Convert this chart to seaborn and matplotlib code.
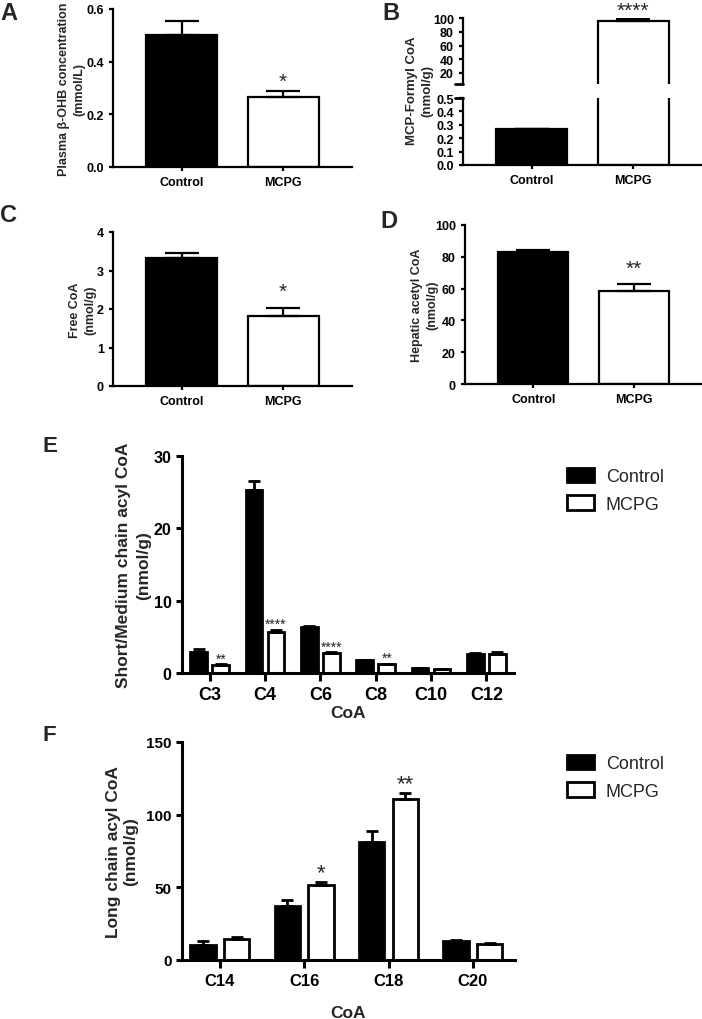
import numpy as np
import pandas as pd
import seaborn as sns
import matplotlib
matplotlib.use("Agg")
import matplotlib.pyplot as plt

# data
groups = ["Control", "MCPG"]
bhb = [0.50, 0.265]
bhb_err = [0.055, 0.025]
formyl = [0.265, 95.0]
formyl_err = [0.004, 3.0]
free_coa = [3.32, 1.83]
free_coa_err = [0.13, 0.19]
acetyl = [83.3, 58.5]
acetyl_err = [1.2, 4.6]

short_chain = ["C3", "C4", "C6", "C8", "C10", "C12"]
short_ctrl = [2.9, 25.3, 6.3, 1.8, 0.7, 2.6]
short_ctrl_err = [0.4, 1.2, 0.2, 0.05, 0.05, 0.15]
short_mcpg = [1.1, 5.7, 2.7, 1.2, 0.55, 2.6]
short_mcpg_err = [0.1, 0.3, 0.15, 0.1, 0.05, 0.3]
short_sig = ["**", "****", "****", "**", "", ""]

long_chain = ["C14", "C16", "C18", "C20"]
long_ctrl = [10, 37, 81.5, 12.8]
long_ctrl_err = [3, 4.6, 7.2, 0.7]
long_mcpg = [14.5, 51.3, 111, 11.2]
long_mcpg_err = [1, 2.3, 4, 0.4]
long_sig = ["", "*", "**", ""]

sns.set_theme(style="ticks")
plt.rcParams['font.family'] = ['Liberation Sans', 'DejaVu Sans']
plt.rcParams['font.weight'] = 'bold'
plt.rcParams['axes.labelweight'] = 'bold'

W, H = 702, 1020
fig = plt.figure(figsize=(W / 100, H / 100), dpi=100)


def rect(l, t, r, b):
    return [l / W, 1 - b / H, (r - l) / W, (b - t) / H]


def style_axes(ax, lw=1.6, tl=3, fs=9):
    sns.despine(ax=ax)
    for s in ["left", "bottom"]:
        ax.spines[s].set_linewidth(lw)
        ax.spines[s].set_color("black")
    ax.tick_params(axis="both", direction="out", length=tl, width=lw,
                   color="black", labelsize=fs, labelcolor="black")
    for t in ax.get_xticklabels() + ax.get_yticklabels():
        t.set_fontweight("bold")


def two_bars(ax, vals, errs):
    sns.barplot(x=groups, y=vals, hue=groups, palette=["black", "white"],
                edgecolor="black", linewidth=1.6, width=0.7, saturation=1,
                legend=False, ax=ax)
    bars = sorted(ax.patches, key=lambda p: p.get_x())
    xs = [b.get_x() + b.get_width() / 2 for b in bars]
    ax.errorbar(xs, vals, yerr=[np.zeros(len(vals)), errs], fmt="none",
                ecolor="black", elinewidth=1.6, capsize=12, capthick=1.6, zorder=3)
    ax.set_xlim(-0.68, 1.68)
    ax.set_xlabel("")
    return xs


def star(ax, x, y, txt, size, pad):
    ax.annotate(txt, (x, y), xytext=(0, pad), textcoords="offset points",
                ha="center", va="bottom", fontsize=size, fontweight="normal")


def set_ylab(ax, txt, x, fs, ls):
    ax.set_ylabel(txt, fontsize=fs, fontweight="bold", linespacing=ls)
    ax.yaxis.set_label_coords(x, 0.5)
    ax.yaxis.label.set_va("center")


# A
axA = fig.add_axes(rect(113, 10, 352, 168))
xs = two_bars(axA, bhb, bhb_err)
axA.set_ylim(0, 0.6)
axA.set_yticks([0, 0.2, 0.4, 0.6])
style_axes(axA)
set_ylab(axA, "Plasma β-OHB concentration\n(mmol/L)", -0.174, 9, 1.35)
star(axA, xs[1], bhb[1] + bhb_err[1], "*", 15, 0)

# B (broken axis)
axBt = fig.add_axes(rect(463, 19, 702, 85))
axBb = fig.add_axes(rect(463, 99, 702, 166))
for ax in (axBt, axBb):
    xs = two_bars(ax, formyl, formyl_err)
axBt.set_ylim(4, 100)
axBt.set_yticks([20, 40, 60, 80, 100])
axBb.set_ylim(0, 0.5)
axBb.set_yticks([0, 0.1, 0.2, 0.3, 0.4, 0.5])
style_axes(axBt)
style_axes(axBb)
axBt.spines["bottom"].set_visible(False)
axBt.tick_params(axis="x", bottom=False, labelbottom=False)
axBt.plot([-0.035, 0], [0, 0], transform=axBt.transAxes, color="black", lw=2, clip_on=False)
axBb.plot([-0.035, 0], [1, 1], transform=axBb.transAxes, color="black", lw=2, clip_on=False)
star(axBt, xs[1], formyl[1] + formyl_err[1], "****", 15, 0)
fig.text(420 / W, 1 - 91 / H, "MCP-Formyl CoA\n(nmol/g)", rotation=90, ha="center",
         va="center", fontsize=9.5, fontweight="bold", linespacing=1.35, multialignment="center")

# C
axC = fig.add_axes(rect(113, 233, 352, 387))
xs = two_bars(axC, free_coa, free_coa_err)
axC.set_ylim(0, 4)
axC.set_yticks([0, 1, 2, 3, 4])
style_axes(axC)
set_ylab(axC, "Free CoA\n(nmol/g)", -0.128, 9, 1.35)
star(axC, xs[1], free_coa[1] + free_coa_err[1], "*", 15, 5)

# D
axD = fig.add_axes(rect(465, 226, 702, 385))
xs = two_bars(axD, acetyl, acetyl_err)
axD.set_ylim(0, 100)
axD.set_yticks([0, 20, 40, 60, 80, 100])
style_axes(axD)
set_ylab(axD, "Hepatic acetyl CoA\n(nmol/g)", -0.169, 9, 1.35)
star(axD, xs[1], acetyl[1] + acetyl_err[1], "**", 15, 4)


def chain_panel(ax, chains, ctrl, ctrl_err, mcpg, mcpg_err, sig, star_fs, leg_top):
    df = pd.DataFrame({
        "chain": chains * 2,
        "group": ["Control"] * len(chains) + ["MCPG"] * len(chains),
        "value": ctrl + mcpg,
    })
    sns.barplot(data=df, x="chain", y="value", hue="group",
                palette=["black", "white"], edgecolor="black", linewidth=2,
                width=0.8, gap=0.25, saturation=1, ax=ax)
    for cont, vals, errs in zip(ax.containers[:2], [ctrl, mcpg], [ctrl_err, mcpg_err]):
        bx = [b.get_x() + b.get_width() / 2 for b in cont]
        ax.errorbar(bx, vals, yerr=[np.zeros(len(vals)), errs], fmt="none",
                    ecolor="black", elinewidth=2, capsize=4, capthick=2, zorder=3)
        if vals is mcpg:
            for x, v, e, s in zip(bx, vals, errs, sig):
                if s:
                    star(ax, x, v + e, s, star_fs, -1)
    sns.move_legend(ax, "upper left", bbox_to_anchor=(558 / W, 1 - leg_top / H),
                    bbox_transform=fig.transFigure, frameon=False, title=None,
                    fontsize=13, borderpad=0, handlelength=1.5, handleheight=0.85,
                    handletextpad=0.65, labelspacing=0.55)
    for t in ax.get_legend().get_texts():
        t.set_fontweight("normal")
    style_axes(ax, lw=2.2, tl=4, fs=11.5)
    ax.tick_params(axis="x", length=6, labelsize=13)
    ax.set_xlabel("CoA", fontsize=12.5, fontweight="bold")


# E
axE = fig.add_axes(rect(182, 457, 514, 674))
chain_panel(axE, short_chain, short_ctrl, short_ctrl_err, short_mcpg, short_mcpg_err,
            short_sig, 10, 460)
axE.set_xlim(-0.5, 5.5)
axE.set_ylim(0, 30)
axE.set_yticks([0, 10, 20, 30])
axE.xaxis.labelpad = 1
set_ylab(axE, "Short/Medium chain acyl CoA\n(nmol/g)", -0.146, 12.5, 1.4)

# F
axF = fig.add_axes(rect(182, 743, 515, 961))
chain_panel(axF, long_chain, long_ctrl, long_ctrl_err, long_mcpg, long_mcpg_err,
            long_sig, 16, 747)
axF.set_xlim(-0.45, 3.5)
axF.set_ylim(0, 150)
axF.set_yticks([0, 50, 100, 150])
axF.tick_params(axis="x", labelsize=12)
axF.tick_params(axis="y", labelsize=11)
axF.xaxis.labelpad = 12
set_ylab(axF, "Long chain acyl CoA\n(nmol/g)", -0.18, 12.5, 1.2)

for letter, x, y, fs in [("A", 0, 20, 17), ("B", 382, 20, 17), ("C", 0, 222, 17),
                         ("D", 380, 228, 17), ("E", 42, 452, 16), ("F", 42, 741, 16)]:
    fig.text(x / W, 1 - y / H, letter, fontsize=fs, fontweight="bold",
             ha="left", va="baseline")

fig.savefig("out.png", dpi=100)
